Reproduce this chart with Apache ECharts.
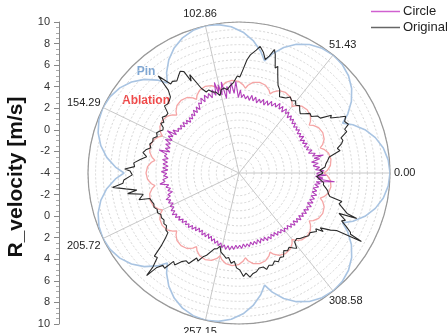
<!DOCTYPE html>
<html><head><meta charset="utf-8">
<script src="https://cdn.jsdelivr.net/npm/echarts@6/dist/echarts.min.js"></script>
<style>html,body{margin:0;padding:0;background:#fff}#c{width:448px;height:333px}</style>
</head><body><div id="c"></div>
<script>
// ---- data ----
const angleLabels = ['0.00','51.43','102.86','154.29','205.72','257.15','308.58'];
const radialMin = -4, radialMax = 10;

// Pin (scalloped, 7 lobes): angle (deg), R_velocity
const pinAngle = [0,4.95,9.83,14.54,18.96,22.97,25.71,28.46,32.47,36.89,41.60,46.48,
 51.43,56.38,61.26,65.97,70.39,74.40,77.14,79.89,83.90,88.32,93.03,97.91,
 102.86,107.81,112.69,117.40,121.82,125.83,128.57,131.32,135.33,139.75,144.46,149.34,
 154.29,159.24,164.12,168.83,173.25,177.26,180.00,182.75,186.76,191.18,195.89,200.77,
 205.71,210.66,215.54,220.25,224.67,228.68,231.43,234.17,238.18,242.60,247.31,252.19,
 257.14,262.09,266.97,271.68,276.10,280.11,282.86,285.60,289.61,294.03,298.74,303.62,
 308.57,313.52,318.40,323.11,327.53,331.54,334.29,337.03,341.04,345.46,350.17,355.05,360];
const pinR = [10,9.89,9.58,9.06,8.35,7.47,6.66,7.47,8.35,9.06,9.58,9.89,
 10,9.89,9.58,9.06,8.35,7.47,6.66,7.47,8.35,9.06,9.58,9.89,
 10,9.89,9.58,9.06,8.35,7.47,6.66,7.47,8.35,9.06,9.58,9.89,
 10,9.89,9.58,9.06,8.35,7.47,6.66,7.47,8.35,9.06,9.58,9.89,
 10,9.89,9.58,9.06,8.35,7.47,6.66,7.47,8.35,9.06,9.58,9.89,
 10,9.89,9.58,9.06,8.35,7.47,6.66,7.47,8.35,9.06,9.58,9.89,
 10,9.89,9.58,9.06,8.35,7.47,6.66,7.47,8.35,9.06,9.58,9.89,10];

// Ablation (21 small scallops)
const ablAngle = [0,1.57,4.57,8.57,12.57,15.57, 17.14,18.71,21.71,25.71,29.71,32.71,
 34.29,35.86,38.86,42.86,46.86,49.86, 51.43,53,56,60,64,67,
 68.57,70.14,73.14,77.14,81.14,84.14, 85.71,87.29,90.29,94.29,98.29,101.29,
 102.86,104.43,107.43,111.43,115.43,118.43, 120,121.57,124.57,128.57,132.57,135.57,
 137.14,138.71,141.71,145.71,149.71,152.71, 154.29,155.86,158.86,162.86,166.86,169.86,
 171.43,173,176,180,184,187, 188.57,190.14,193.14,197.14,201.14,204.14,
 205.71,207.29,210.29,214.29,218.29,221.29, 222.86,224.43,227.43,231.43,235.43,238.43,
 240,241.57,244.57,248.57,252.57,255.57, 257.14,258.71,261.71,265.71,269.71,272.71,
 274.29,275.86,278.86,282.86,286.86,289.86, 291.43,293,296,300,304,307,
 308.57,310.14,313.14,317.14,321.14,324.14, 325.71,327.29,330.29,334.29,338.29,341.29,
 342.86,344.43,347.43,351.43,355.43,358.43, 360];
const ablR = [3.88,4.18,4.50,4.62,4.50,4.18, 3.88,4.18,4.50,4.62,4.50,4.18,
 3.88,4.18,4.50,4.62,4.50,4.18, 3.88,4.18,4.50,4.62,4.50,4.18,
 3.88,4.18,4.50,4.62,4.50,4.18, 3.88,4.18,4.50,4.62,4.50,4.18,
 3.88,4.18,4.50,4.62,4.50,4.18, 3.88,4.18,4.50,4.62,4.50,4.18,
 3.88,4.18,4.50,4.62,4.50,4.18, 3.88,4.18,4.50,4.62,4.50,4.18,
 3.88,4.18,4.50,4.62,4.50,4.18, 3.88,4.18,4.50,4.62,4.50,4.18,
 3.88,4.18,4.50,4.62,4.50,4.18, 3.88,4.18,4.50,4.62,4.50,4.18,
 3.88,4.18,4.50,4.62,4.50,4.18, 3.88,4.18,4.50,4.62,4.50,4.18,
 3.88,4.18,4.50,4.62,4.50,4.18, 3.88,4.18,4.50,4.62,4.50,4.18,
 3.88,4.18,4.50,4.62,4.50,4.18, 3.88,4.18,4.50,4.62,4.50,4.18,
 3.88,4.18,4.50,4.62,4.50,4.18, 3.88];

// Original: [angle, R_velocity]
const originalPts = [[0,3.8],[2,3.5],[4,4.0],[6,4.1],[8,4.3],[10,4.5],[11,4.6],[12.5,5.6],[14,5.4],[16,5.9],
 [17.5,6.1],[19,6.0],[21,6.7],[22.5,6.6],[24,7.1],[26,6.9],[28,7.2],[29,6.7],[31,5.9],[32,6.1],
 [34,5.1],[36,5.0],[38,4.5],[40,4.6],[42,4.2],[44,3.9],[46,4.1],[48,4.4],[50,4.2],[52,4.5],
 [54,4.3],[56,4.5],[58,4.2],[60,4.1],[62,4.0],[64,4.6],[66,4.9],[68,5.6],[70,6.5],[71,6.3],
 [73,7.5],[74,7.9],[75.5,7.2],[77,6.8],[78.5,7.4],[80.5,7.9],[82,7.5],[84.5,7.0],[86,6.5],[88,5.5],
 [89.5,4.9],[91,5.0],[93.5,4.4],[96,4.1],[98,3.8],[100,4.0],[102,3.9],[103.7,3.4],[106,3.8],[108,3.9],
 [110,4.2],[112,4.1],[114,4.6],[115.5,4.5],[116.6,6.2],[117.5,5.6],[118.5,6.7],[120,6.9],[122,6.6],[124,6.3],
 [126,6.5],[127.5,6.4],[129.8,7.7],[130.5,6.1],[132,5.5],[134,5.3],[136,5.2],[138,5.3],[140,4.6],[142,4.6],
 [144,4.8],[146,4.4],[147.5,4.6],[149,4.2],[150.5,4.1],[152,4.3],[154,4.5],[156,4.3],[158,4.6],[160,4.5],
 [162,4.7],[164,4.5],[166,4.9],[168,5.1],[170,4.7],[172,5.2],[174.5,5.8],[176.5,5.7],[178,6.6],[179,6.1],
 [181,5.9],[183.5,6.7],[185,6.8],[186.5,7.8],[188,6.6],[189.5,5.6],[190.5,6.5],[192.5,5.1],[195,5.6],[196,4.6],
 [198,4.5],[200,4.4],[202,4.5],[204,4.3],[206,4.4],[208,4.2],[210,4.3],[212,4.2],[214,4.4],[216,4.3],
 [218,4.6],[220,4.6],[221.5,5.1],[223,5.8],[224.5,7.0],[226,6.9],[227.5,7.8],[228,8.8],[229,7.6],[230.5,7.1],
 [232,7.2],[233.5,6.2],[235,6.4],[237,5.8],[239,5.5],[241,5.6],[243.5,4.8],[245,5.0],[247,4.4],[248.5,4.2],
 [250,4.3],[252,3.4],[254,3.3],[255.5,3.0],[257,3.5],[259,3.7],[261.5,4.0],[263,3.9],[265,4.4],[267,4.2],
 [268.5,4.8],[270.5,5.0],[272.5,5.6],[274,5.3],[276,5.7],[278,5.4],[280,5.3],[282,5.0],[284.5,5.0],[286,5.3],
 [288,5.0],[290,5.1],[292,4.8],[294,5.0],[296,4.7],[298,4.8],[300,4.3],[302,4.5],[304,4.3],[306,4.6],
 [307.5,4.8],[309,4.2],[311.5,4.1],[313,4.3],[316,4.5],[318,4.7],[320,4.6],[323,5.0],[324,4.8],[325.2,5.5],
 [326,5.1],[328,6.0],[329.5,6.5],[330.8,9.0],[331.2,7.8],[332,7.7],[333.5,7.1],[335,6.5],[336,6.8],[338,6.0],
 [338.9,7.7],[339.5,6.7],[341.8,6.0],[343,5.7],[344.5,5.9],[345.5,4.7],[347,4.5],[348.5,4.4],[350,4.2],[352,3.9],
 [353.5,3.9],[355,3.6],[357.5,3.2],[360,3.8]];

// Circle: [angle, R_velocity]
const circlePts = [[0,3.3],[1.5,3.9],[2.5,3.1],[4,3.5],[5.5,2.9],[7,3.4],[8.5,2.8],[10,3.6],[11,3.1],[12,4.0],
 [13,3.0],[14.5,3.3],[16,2.7],[17.5,3.1],[19,2.6],[20.5,2.9],[22,2.5],[23.5,2.9],[25,2.5],[26.5,2.8],
 [28,2.4],[29.5,2.9],[31,2.5],[32.5,2.8],[34,2.5],[35.5,2.9],[37,2.6],[38.5,2.9],[40,2.6],[41.5,3.0],
 [43,2.7],[44.5,3.1],[46,2.8],[47.5,3.2],[49,2.8],[50.5,3.3],[52,3.0],[53.5,3.4],[55,2.9],[56.5,3.4],
 [58,3.0],[59.5,3.5],[61,3.0],[62.5,3.3],[64,2.9],[65.5,3.3],[67,2.8],[68.5,3.2],[70,2.7],[71.5,3.2],
 [73,2.8],[74.5,3.1],[76,2.7],[77.5,3.2],[79,2.8],[80.5,3.3],[82,2.8],[83.5,3.2],[85,2.9],[86.5,3.3],
 [88,3.0],[89,3.7],[90.5,3.0],[92,4.5],[93.5,3.4],[95,4.4],[96.5,3.4],[98,4.1],[99.5,3.0],[101,4.6],
 [102.2,3.4],[103.3,4.4],[104.3,3.6],[105.2,4.7],[106.5,3.5],[108,4.1],[109.5,3.4],[111,3.9],[112.5,3.5],[114,3.9],
 [115.5,3.3],[117,3.8],[118.5,3.3],[120,3.5],[121.5,2.9],[123,3.3],[124.5,2.8],[126,3.2],[127.5,2.7],[129,3.0],
 [130.5,2.6],[132,2.9],[133.5,2.5],[135,2.9],[136.5,2.6],[138,3.0],[139.5,2.6],[141,3.0],[142.5,2.7],[144,3.0],
 [145.5,2.8],[147,3.3],[148.5,2.8],[149.5,3.7],[151,3.0],[152.5,3.4],[154,2.9],[155.5,3.5],[157,2.9],[158.5,3.3],
 [160,2.8],[161.5,3.2],[163,2.7],[164,3.7],[165.5,2.9],[167,3.1],[168.5,2.7],[170,3.2],[171.5,2.7],[173,3.1],
 [174.5,2.6],[176,3.1],[177.5,2.6],[179,3.2],[180.5,2.7],[182,3.0],[183.5,2.6],[185,3.1],[186.5,2.9],[188,3.4],
 [189.5,2.6],[191,2.9],[192.5,2.5],[194,2.8],[195.5,2.4],[197,2.9],[198.5,2.7],[200,3.2],[201.5,2.8],[203,3.1],
 [204.5,2.7],[206,3.1],[207.5,2.8],[209,3.2],[210.5,2.9],[212,3.3],[213.5,2.9],[215,3.2],[216.5,2.8],[218,3.1],
 [219.5,2.7],[221,3.0],[222.5,2.6],[224,2.9],[225.5,2.6],[227,2.9],[228.5,2.5],[230,2.8],[231.5,2.4],[233,2.7],
 [234.5,2.3],[236,2.6],[237.5,2.3],[239,2.7],[240.5,2.4],[242,2.7],[243.5,2.3],[245,2.7],[246.5,2.4],[248,2.8],
 [249.5,2.5],[251,2.9],[252.5,2.6],[254,3.0],[255.5,2.7],[257,3.1],[258.5,2.8],[260,3.2],[261.5,2.8],[263,3.2],
 [264.5,2.8],[266,3.1],[267.5,2.7],[269,3.0],[270.5,2.7],[272,3.0],[273.5,2.6],[275,2.9],[276.5,2.6],[278,2.9],
 [279.5,2.5],[281,2.8],[282.5,2.5],[284,2.8],[285.5,2.4],[287,2.8],[288.5,2.4],[290,2.7],[291.5,2.4],[293,2.8],
 [294.5,2.5],[296,2.8],[297.5,2.4],[299,2.7],[300.5,2.4],[302,2.8],[303.5,2.5],[305,2.8],[306.5,2.5],[308,2.9],
 [309.5,2.6],[311,2.9],[312.5,2.6],[314,3.0],[315.5,2.7],[317,3.1],[318.5,2.7],[320,3.1],[321.5,2.8],[323,3.2],
 [324.5,2.8],[326,3.2],[327.5,2.9],[329,3.3],[330.5,2.9],[332,3.3],[333.5,3.0],[335,3.4],[336.5,2.9],[338,3.4],
 [339.5,3.0],[341,3.4],[342.5,3.0],[344,3.5],[345.5,3.0],[347,3.4],[348.5,3.0],[350,3.5],[351.5,3.1],[352.5,3.6],
 [353.5,3.2],[354.8,4.9],[355.6,3.3],[356.5,3.8],[357.5,3.1],[358.5,4.1],[359.3,3.2],[360,3.3]];

// ---- chart ----
const FONT = 'Liberation Sans, Arial, sans-serif';
const chart = echarts.init(document.getElementById('c'), null, {renderer: 'canvas'});
const toPolar = (angles, rs) => angles.map((a, i) => [rs[i], a]);
const pairsToPolar = pts => pts.map(p => [p[1], p[0]]);
const lbl = (pad) => ({fontSize: 11, color: '#222', fontFamily: FONT, padding: pad});

chart.setOption({
  animation: false,
  backgroundColor: '#fff',
  textStyle: {fontFamily: FONT},
  legend: {
    data: [
      {name: 'Circle', icon: 'rect', itemStyle: {color: '#d060d0', borderWidth: 0}, lineStyle: {color: '#d060d0'}},
      {name: 'Original', icon: 'rect', itemStyle: {color: '#666', borderWidth: 0}, lineStyle: {color: '#666'}}
    ],
    orient: 'vertical', left: 371, top: 5, padding: 0,
    icon: 'rect', itemWidth: 29, itemHeight: 1.5, itemGap: 3,
    textStyle: {fontSize: 13, color: '#222', fontFamily: FONT, padding: [0,0,0,-2]}
  },
  grid: {left: 59, top: 22, width: 10, height: 302},
  xAxis: {type: 'value', show: false, min: 0, max: 1},
  yAxis: {
    type: 'value', min: -18, max: 10, interval: 2, position: 'left',
    axisLine: {show: true, lineStyle: {color: '#888', width: 1}},
    axisTick: {show: true, inside: false, length: 5, lineStyle: {color: '#888'}},
    minorTick: {show: true, splitNumber: 4, length: 3, lineStyle: {color: '#aaa'}},
    splitLine: {show: false},
    axisLabel: {fontSize: 11, color: '#333', margin: 9, fontFamily: FONT,
      formatter: v => String(v >= radialMin ? v : 2 * radialMin - v)}
  },
  polar: {center: [239, 173], radius: 151},
  angleAxis: {
    type: 'value', min: 0, max: 360, interval: 360 / 7,
    startAngle: 0, clockwise: false,
    axisLine: {show: true, lineStyle: {color: '#999', width: 1.2}},
    axisTick: {show: false},
    splitLine: {show: true, lineStyle: {color: '#c8c8c8', width: 1}},
    axisLabel: {fontSize: 11, color: '#222', margin: 6, fontFamily: FONT,
      formatter: v => {
        const i = Math.round(v / (360 / 7));
        return angleLabels[i] ? '{t' + i + '|' + angleLabels[i] + '}' : '';
      },
      rich: {
        t0: lbl([0,0,0,-2]), t1: lbl([0,0,0,-8]), t2: lbl([0,8,0,0]),
        t3: lbl([0,-3,-4,0]), t4: lbl([-1,-3,0,0]), t5: lbl([0,8,0,0]), t6: lbl([0,0,0,-8])
      }
    }
  },
  radiusAxis: {
    type: 'value', min: radialMin, max: radialMax, interval: 0.7,
    axisLine: {show: false}, axisTick: {show: false}, axisLabel: {show: false},
    splitLine: {show: true, lineStyle: {color: '#d6d6d6', type: [2, 2], width: 1}}
  },
  graphic: [
    {type: 'text', x: 16, y: 177, rotation: Math.PI / 2,
     style: {text: 'R_velocity [m/s]', font: 'bold 21px ' + FONT, fill: '#111', align: 'center', verticalAlign: 'middle'}},
    {type: 'text', x: 146, y: 72,
     style: {text: 'Pin', font: 'bold 12px ' + FONT, fill: '#7ea6d3', align: 'center', verticalAlign: 'middle'}},
    {type: 'text', x: 146, y: 101,
     style: {text: 'Ablation', font: 'bold 12px ' + FONT, fill: '#f04848', align: 'center', verticalAlign: 'middle'}}
  ],
  series: [
    {name: 'Pin', type: 'line', coordinateSystem: 'polar', symbol: 'none',
     lineStyle: {color: '#a9c4e2', width: 1.6}, itemStyle: {color: '#a9c4e2'},
     data: toPolar(pinAngle, pinR)},
    {name: 'Ablation', type: 'line', coordinateSystem: 'polar', symbol: 'none',
     lineStyle: {color: '#f5a5a5', width: 1.3}, itemStyle: {color: '#f5a5a5'},
     data: toPolar(ablAngle, ablR)},
    {name: 'Circle', type: 'line', coordinateSystem: 'polar', symbol: 'none',
     lineStyle: {color: '#b23fba', width: 1.1}, itemStyle: {color: '#d060d0'},
     data: pairsToPolar(circlePts)},
    {name: 'Original', type: 'line', coordinateSystem: 'polar', symbol: 'none',
     lineStyle: {color: '#2a2a2a', width: 1.1}, itemStyle: {color: '#666'},
     data: pairsToPolar(originalPts)}
  ]
});
</script></body></html>
